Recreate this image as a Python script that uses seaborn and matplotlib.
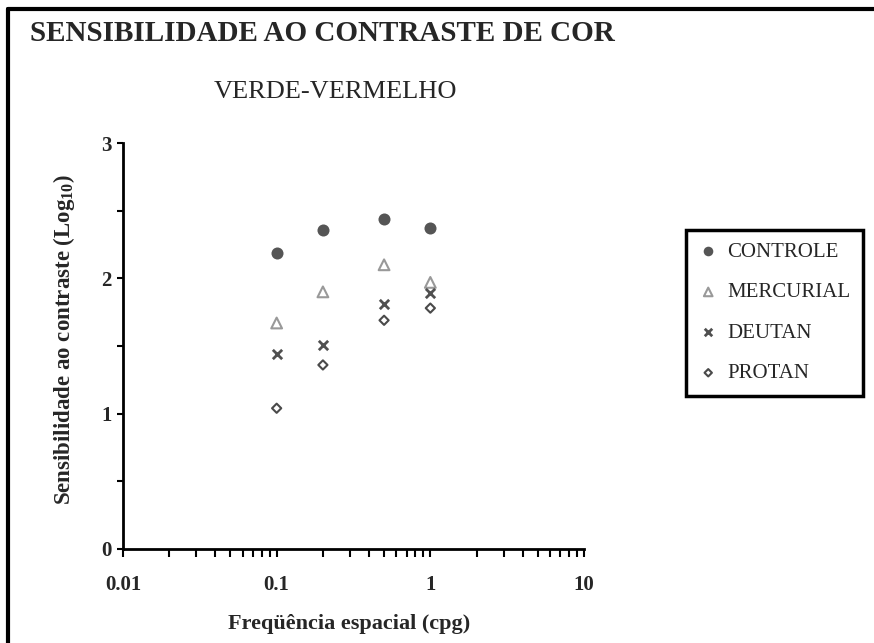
import matplotlib
matplotlib.use('Agg')
import matplotlib.pyplot as plt
import seaborn as sns
import pandas as pd
from matplotlib.ticker import MultipleLocator, FixedLocator, LogLocator, NullFormatter

# spatial frequency (cpg)
freq = [0.1, 0.2, 0.5, 1.0]
# contrast sensitivity (log10)
controle = [2.19, 2.36, 2.44, 2.37]
mercurial = [1.67, 1.90, 2.10, 1.97]
deutan = [1.44, 1.51, 1.81, 1.89]
protan = [1.04, 1.36, 1.69, 1.78]
groups = ['CONTROLE', 'MERCURIAL', 'DEUTAN', 'PROTAN']

df = pd.DataFrame({
    'freq': freq * 4,
    'sens': controle + mercurial + deutan + protan,
    'grupo': [g for g in groups for _ in freq],
})

sns.set_style('white')
plt.rcParams['font.family'] = ['Liberation Serif', 'DejaVu Serif']
plt.rcParams['mathtext.fontset'] = 'custom'
plt.rcParams['mathtext.bf'] = 'Liberation Serif:bold'
plt.rcParams['mathtext.rm'] = 'Liberation Serif'

fig = plt.figure(figsize=(8.74, 6.43), dpi=100)
ax = fig.add_axes([0.1407, 0.1462, 0.5275, 0.6314])

styles = {
    'CONTROLE': dict(marker='o', s=75, color='#555555', edgecolor='#555555', linewidth=0),
    'MERCURIAL': dict(marker='^', s=60, facecolor='none', edgecolor='#999999', linewidth=1.5),
    'DEUTAN': dict(marker='x', s=45, color='#505050', linewidth=2),
    'PROTAN': dict(marker='D', s=22, facecolor='none', edgecolor='#4a4a4a', linewidth=1.5),
}
for g in groups:
    sub = df[df['grupo'] == g]
    sns.scatterplot(data=sub, x='freq', y='sens', ax=ax, label=g, **styles[g])

ax.set_xscale('log')
ax.set_xlim(0.01, 10)
ax.set_ylim(0, 3)
ax.xaxis.set_major_locator(FixedLocator([0.01, 0.1, 1, 10]))
ax.set_xticklabels(['0.01', '0.1', '1', '10'])
ax.xaxis.set_minor_locator(LogLocator(base=10, subs=range(2, 10)))
ax.xaxis.set_minor_formatter(NullFormatter())
ax.yaxis.set_major_locator(MultipleLocator(1))
ax.yaxis.set_minor_locator(MultipleLocator(0.5))
ax.tick_params(axis='both', which='both', direction='out', length=5, width=1.5,
               color='black', labelsize=15, bottom=True, left=True)
ax.tick_params(axis='y', which='both', pad=4, length=4)
ax.tick_params(axis='x', which='both', length=6, pad=13)
for lab in ax.get_xticklabels() + ax.get_yticklabels():
    lab.set_fontweight('bold')

sns.despine(ax=ax)
ax.spines['left'].set_linewidth(2)
ax.spines['bottom'].set_linewidth(2)
ax.spines['left'].set_color('black')
ax.spines['bottom'].set_color('black')

ax.set_xlabel('Freqüência espacial (cpg)', fontsize=16, fontweight='bold')
ax.set_ylabel(r'Sensibilidade ao contraste (Log$_{\mathbf{10}}$)', fontsize=16.5,
              fontweight='bold')
ax.xaxis.set_label_coords(0.49, -0.16)
ax.yaxis.set_label_coords(-0.10, 0.515)

leg = ax.legend(loc='upper left', bbox_to_anchor=(1.222, 0.786), frameon=True,
                fancybox=False, fontsize=15, labelspacing=1.0, handletextpad=0.45,
                handlelength=0.9, borderpad=0.6, borderaxespad=0, markerscale=0.8,
                framealpha=1)
leg.get_frame().set_edgecolor('black')
leg.get_frame().set_linewidth(2.5)

fig.text(0.034, 0.937, 'SENSIBILIDADE AO CONTRASTE DE COR', fontsize=21,
         fontweight='bold', va='baseline', ha='left')
fig.text(0.245, 0.848, 'VERDE-VERMELHO', fontsize=19, va='baseline', ha='left')

# slide frame: top and left
fig.add_artist(plt.Line2D([0.009, 1.0], [0.986, 0.986], color='black', linewidth=3,
                          transform=fig.transFigure))
fig.add_artist(plt.Line2D([0.009, 0.009], [0.0, 0.986], color='black', linewidth=3,
                          transform=fig.transFigure))

fig.savefig('out.png', dpi=100)
